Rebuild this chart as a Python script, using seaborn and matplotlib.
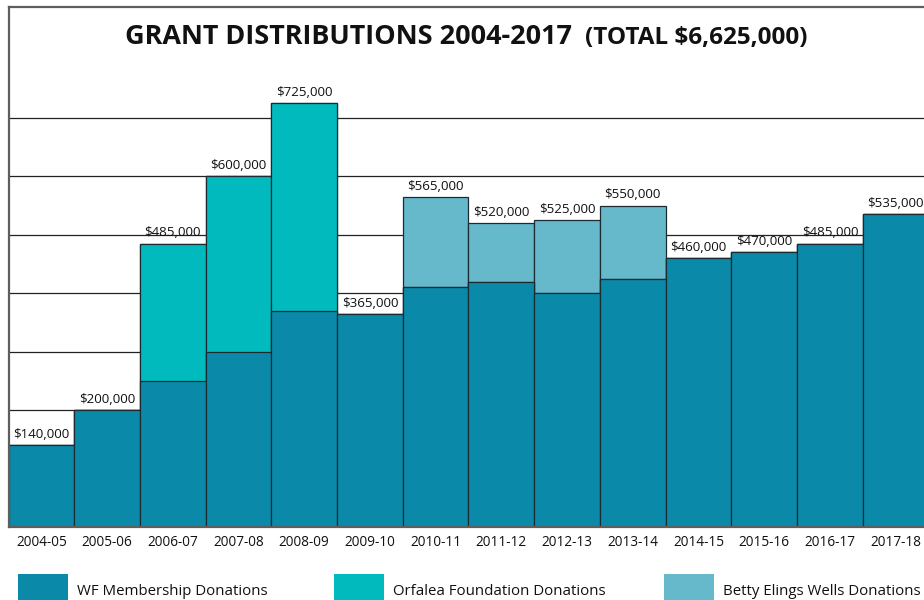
import matplotlib
matplotlib.use("Agg")
import matplotlib.pyplot as plt
from matplotlib import font_manager
from matplotlib.patches import Rectangle
import pandas as pd
import seaborn as sns

# values in thousands of dollars
years = ["2004-05", "2005-06", "2006-07", "2007-08", "2008-09", "2009-10", "2010-11",
         "2011-12", "2012-13", "2013-14", "2014-15", "2015-16", "2016-17", "2017-18"]
wf_membership = [140, 200, 250, 300, 370, 365, 410, 420, 400, 425, 460, 470, 485, 535]
orfalea = [0, 0, 235, 300, 355, 0, 0, 0, 0, 0, 0, 0, 0, 0]
betty_wells = [0, 0, 0, 0, 0, 0, 155, 100, 125, 125, 0, 0, 0, 0]
series_names = ["WF Membership Donations", "Orfalea Foundation Donations",
                "Betty Elings Wells Donations"]
gridlines = [100, 200, 300, 400, 500, 600, 700]

colors = ["#0a8aa8", "#00babd", "#66b9cb"]

installed = {f.name for f in font_manager.fontManager.ttflist}
title_font = "Liberation Sans Narrow" if "Liberation Sans Narrow" in installed else "Open Sans"

sns.set_theme(style="white")
plt.rcParams["font.family"] = ["Open Sans", "DejaVu Sans"]

df = pd.DataFrame({"year": years, "wf": wf_membership, "orf": orfalea, "bew": betty_wells})
df["wf_orf"] = df["wf"] + df["orf"]
df["total"] = df["wf_orf"] + df["bew"]

W, H = 924, 600
fig = plt.figure(figsize=(W / 100, H / 100), dpi=100)
ax = fig.add_axes([8.5 / W, 73 / H, 920 / W, 520 / H])

# layered bars: full total first, then the lower stacks on top
for col, color in [("total", colors[2]), ("wf_orf", colors[1]), ("wf", colors[0])]:
    sns.barplot(data=df, x="year", y=col, color=color, width=1.0, saturation=1,
                errorbar=None, edgecolor="#1c2b31", linewidth=0.9, ax=ax, zorder=2)

for i, t in enumerate(df["total"]):
    ax.annotate(f"${t * 1000:,}", (i, t), xytext=(0, 3), textcoords="offset points",
                ha="center", va="bottom", fontsize=9.6, color="#111111", zorder=5)

ax.set_xlim(-0.5, 13.5)
ax.set_ylim(0, 890)
ax.set_yticks(gridlines)
ax.set_yticklabels([])
ax.set_axisbelow(True)
ax.yaxis.grid(True, color="#222222", linewidth=0.9)
ax.xaxis.grid(False)
ax.tick_params(axis="y", length=0)
ax.tick_params(axis="x", length=0, pad=6, labelsize=9.8, labelcolor="#111111")
ax.set_xlabel("")
ax.set_ylabel("")
for s in ["left", "top", "bottom"]:
    ax.spines[s].set_color("#5e5e5e")
    ax.spines[s].set_linewidth(1.6)
ax.spines["right"].set_visible(False)

# title in two sizes, fitted to the reference widths
base_y = (H - 44) / H
t1 = fig.text(0, base_y, "GRANT DISTRIBUTIONS 2004-2017", fontsize=20, fontweight="bold",
              family=title_font, va="baseline", color="#111111")
t2 = fig.text(0, base_y, "(TOTAL $6,625,000)", fontsize=16, fontweight="bold",
              family=title_font, va="baseline", color="#111111")
fig.canvas.draw()
r = fig.canvas.get_renderer()
t1.set_fontsize(20 * 447 / t1.get_window_extent(r).width)
t2.set_fontsize(16 * 223 / t2.get_window_extent(r).width)
t1.set_x(125 / W)
t2.set_x(585 / W)

# legend swatches
for x0, name, color in zip([18, 334, 664], series_names, colors):
    fig.add_artist(Rectangle((x0 / W, 0), 50 / W, 26 / H, transform=fig.transFigure,
                             facecolor=color, edgecolor="none"))
    fig.text((x0 + 59) / W, 5 / H, name, fontsize=10.8, va="baseline", color="#111111")

fig.savefig("out.png", dpi=100)
